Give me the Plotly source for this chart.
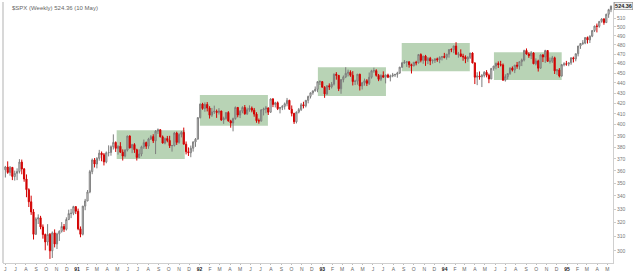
import pandas as pd
import plotly.graph_objects as go

# ---------------- data (weekly $SPX, Jun 1990 - May 1995) ----------------
first_week = "1990-06-01"

opens = [
    # 1990
    360.9, 363.2, 358.7, 362.9, 355.4, 358.0, 359.5, 367.3, 361.6, 353.4, 344.9, 335.5, 327.8, 311.5, 322.6, 323.4,
    316.8, 311.3, 306.1, 311.5, 300.0, 312.5, 304.7, 311.8, 313.7, 317.1, 315.1, 322.2, 326.6, 326.8, 331.8,
    # 1991
    328.3, 315.4, 311.5, 332.2, 336.1, 343.1, 359.4, 369.1, 365.7, 370.5, 374.9, 373.5, 367.5, 375.2, 375.4, 380.4,
    384.2, 379.0, 380.8, 375.7, 372.4, 377.5, 389.8, 379.4, 382.3, 377.8, 371.2, 374.1, 380.3, 384.0, 380.9, 387.2,
    389.3, 385.6, 394.2, 395.4, 389.1, 383.6, 387.6, 385.9, 381.3, 381.5, 392.5, 384.2, 391.3, 393.1, 382.6, 376.1,
    375.2, 379.1, 384.5, 387.0,
    # 1992
    406.5, 419.3, 415.1, 418.9, 415.5, 408.8, 411.9, 412.5, 411.4, 412.7, 404.4, 405.8, 411.3, 403.5, 401.6, 405.6,
    416.1, 409.0, 412.5, 416.1, 410.1, 414.0, 415.4, 413.5, 409.8, 403.7, 403.5, 413.8, 414.6, 415.6, 411.6, 424.2,
    418.9, 420.6, 414.9, 416.1, 417.1, 419.6, 422.9, 414.4, 410.5, 402.7, 411.7, 414.1, 418.7, 417.6, 422.9, 426.7,
    430.2, 432.1, 433.7, 441.3, 441.3,
    # 1993
    435.7, 429.1, 437.2, 436.1, 438.8, 448.9, 447.7, 434.2, 443.4, 446.1, 449.8, 450.9, 447.8, 441.4, 441.8, 448.9,
    437.0, 440.2, 442.3, 439.6, 445.8, 452.4, 452.5, 447.7, 443.7, 447.6, 445.8, 448.1, 445.8, 447.1, 448.1, 448.7,
    450.1, 456.2, 460.5, 461.3, 461.7, 458.8, 457.6, 461.3, 460.7, 469.5, 463.3, 467.8, 463.0, 465.4, 462.6, 463.1,
    464.9, 463.9, 466.4, 467.4,
    # 1994
    466.5, 469.9, 474.9, 474.7, 478.7, 469.8, 470.2, 467.7, 467.0, 464.7, 466.4, 471.1, 460.6, 445.8, 447.1, 446.2,
    447.6, 450.9, 447.8, 444.1, 454.9, 457.3, 460.1, 458.7, 458.5, 442.8, 446.4, 449.6, 455.2, 453.1, 458.3, 457.1,
    461.9, 463.7, 473.8, 470.0, 468.2, 471.2, 459.7, 462.7, 455.1, 469.1, 466.9, 473.8, 462.3, 462.4, 466.0, 452.3,
    453.3, 447.0, 458.8, 459.6,
    # 1995
    459.3, 460.7, 466.0, 464.8, 470.4, 478.7, 481.5, 482.0, 488.1, 485.4, 489.6, 496.0, 501.0, 500.7, 506.4, 509.2,
    505.0, 514.7, 520.1,
]

highs = [
    # 1990
    364.1, 367.9, 364.0, 363.1, 360.2, 362.1, 369.8, 369.4, 362.4, 357.1, 346.0, 340.2, 329.9, 323.8, 326.0, 324.9,
    318.6, 312.0, 318.8, 312.4, 313.5, 315.0, 312.6, 314.3, 320.3, 318.9, 323.8, 329.5, 330.1, 332.4, 332.2,
    # 1991
    330.3, 317.1, 332.3, 337.7, 344.6, 360.8, 370.3, 370.7, 371.4, 377.7, 376.3, 375.0, 376.3, 381.6, 381.5, 391.3,
    385.0, 381.6, 384.4, 378.1, 378.2, 390.1, 390.4, 382.9, 383.5, 378.7, 378.2, 381.3, 386.7, 384.9, 388.2, 390.6,
    391.4, 395.1, 396.6, 396.0, 390.3, 388.4, 389.9, 390.0, 381.9, 393.5, 393.7, 392.2, 394.2, 397.4, 385.0, 379.8,
    381.4, 385.2, 388.0, 407.0,
    # 1992
    419.8, 420.5, 420.9, 421.2, 417.3, 415.6, 417.8, 414.1, 415.4, 413.0, 407.4, 411.5, 412.6, 404.5, 406.5, 417.0,
    416.5, 413.6, 417.2, 418.4, 415.9, 418.1, 417.0, 415.6, 411.6, 405.7, 414.4, 415.9, 417.5, 416.1, 424.8, 425.1,
    421.5, 421.8, 416.5, 418.3, 420.8, 425.2, 423.4, 418.0, 411.0, 412.2, 415.6, 420.4, 421.5, 423.2, 427.4, 430.4,
    432.5, 436.5, 441.4, 442.6, 441.8,
    # 1993
    436.8, 437.5, 439.6, 441.0, 449.6, 451.0, 448.1, 443.9, 447.6, 456.1, 453.6, 452.9, 452.0, 443.2, 449.1, 449.3,
    441.1, 444.4, 443.9, 450.6, 453.4, 455.6, 454.0, 449.1, 448.7, 451.8, 448.6, 449.4, 448.5, 450.2, 449.1, 451.4,
    456.4, 461.6, 463.6, 462.3, 462.4, 459.8, 461.3, 462.8, 470.1, 470.8, 468.2, 469.1, 466.8, 467.0, 464.5, 465.3,
    466.2, 467.6, 467.4, 471.3,
    # 1994
    470.1, 475.3, 476.2, 479.0, 482.9, 472.3, 475.1, 470.3, 468.6, 467.8, 471.2, 471.9, 461.2, 450.9, 451.7, 449.1,
    452.0, 453.1, 449.5, 455.1, 457.3, 460.9, 462.2, 462.8, 460.0, 448.8, 449.6, 456.0, 456.9, 458.3, 461.6, 462.0,
    465.2, 474.7, 476.1, 471.9, 473.2, 472.0, 465.4, 464.0, 469.6, 469.9, 474.6, 474.1, 466.3, 468.0, 467.2, 454.2,
    455.2, 459.5, 461.3, 462.7,
    # 1995
    461.3, 466.4, 467.2, 470.4, 478.8, 481.9, 485.2, 488.3, 489.2, 490.4, 496.2, 501.4, 503.9, 506.6, 510.0, 510.1,
    515.3, 521.1, 524.9,
]

lows = [
    # 1990
    354.6, 357.6, 356.1, 352.5, 352.1, 352.5, 357.9, 357.2, 351.2, 339.0, 331.5, 325.6, 307.8, 311.0, 318.9, 315.1,
    308.4, 300.3, 303.6, 294.5, 295.1, 302.3, 301.2, 306.8, 312.7, 313.2, 314.2, 321.7, 323.2, 325.4, 326.2,
    # 1991
    314.4, 309.4, 310.7, 329.1, 336.0, 342.1, 357.3, 362.8, 362.1, 368.5, 368.0, 364.5, 366.3, 372.1, 372.7, 378.0,
    375.9, 373.6, 375.1, 368.6, 371.2, 376.3, 378.9, 374.9, 375.1, 368.6, 370.6, 372.2, 378.5, 378.5, 378.6, 386.3,
    383.6, 374.1, 391.7, 388.6, 383.2, 382.5, 384.3, 379.3, 376.2, 380.6, 382.0, 383.1, 388.6, 382.6, 373.8, 372.5,
    371.4, 376.2, 380.3, 386.8,
    # 1992
    405.8, 413.9, 412.0, 412.3, 405.7, 407.2, 410.0, 406.3, 409.4, 403.6, 400.8, 404.6, 402.8, 397.3, 394.0, 404.6,
    406.8, 406.1, 410.6, 409.2, 409.1, 412.0, 411.5, 407.4, 401.8, 401.0, 402.8, 408.6, 410.6, 409.0, 411.0, 416.4,
    416.1, 413.6, 410.5, 413.6, 414.1, 417.2, 413.8, 407.7, 400.7, 401.2, 410.5, 412.7, 415.2, 416.1, 420.0, 424.7,
    428.3, 431.5, 430.8, 438.0, 435.7,
    # 1993
    425.3, 428.2, 433.0, 434.5, 437.4, 443.3, 431.9, 429.3, 440.6, 444.9, 446.6, 446.2, 437.5, 437.9, 438.3, 432.5,
    433.5, 437.3, 436.9, 438.0, 444.4, 450.3, 446.4, 441.8, 441.9, 445.3, 439.6, 444.9, 441.6, 445.8, 446.1, 445.3,
    449.2, 455.3, 459.8, 456.4, 455.6, 449.6, 456.9, 458.0, 459.9, 461.2, 459.7, 457.5, 459.3, 458.3, 459.9, 460.5,
    461.7, 460.3, 463.2, 465.4,
    # 1994
    464.0, 466.1, 472.0, 470.9, 469.3, 466.1, 466.8, 462.9, 460.3, 461.7, 464.8, 460.1, 438.9, 437.8, 443.3, 435.9,
    445.6, 445.7, 439.8, 443.8, 452.5, 453.9, 455.3, 456.9, 442.3, 441.4, 443.5, 448.2, 451.7, 450.0, 454.5, 453.6,
    457.3, 462.2, 469.4, 465.9, 464.6, 459.3, 458.0, 451.6, 454.6, 461.5, 460.6, 461.8, 460.0, 460.6, 449.1, 448.3,
    445.6, 446.4, 457.0, 457.6,
    # 1995
    457.2, 458.6, 461.1, 462.3, 467.5, 475.6, 479.8, 480.7, 481.4, 482.0, 488.5, 494.2, 493.8, 499.1, 504.9, 502.5,
    504.5, 510.5, 517.2,
]

closes = [
    # 1990
    363.2, 358.7, 362.9, 355.4, 358.0, 359.5, 367.3, 361.6, 353.4, 344.9, 335.5, 327.8, 311.5, 322.6, 323.4, 316.8,
    311.3, 306.1, 311.5, 300.0, 312.5, 304.7, 311.8, 313.7, 317.1, 315.1, 322.2, 326.6, 326.8, 331.8, 328.3,
    # 1991
    315.4, 311.5, 332.2, 336.1, 343.1, 359.4, 369.1, 365.7, 370.5, 374.9, 373.5, 367.5, 375.2, 375.4, 380.4, 384.2,
    379.0, 380.8, 375.7, 372.4, 377.5, 389.8, 379.4, 382.3, 377.8, 371.2, 374.1, 380.3, 384.0, 380.9, 387.2, 389.3,
    385.6, 394.2, 395.4, 389.1, 383.6, 387.6, 385.9, 381.3, 381.5, 392.5, 384.2, 391.3, 393.1, 382.6, 376.1, 375.2,
    379.1, 384.5, 387.0, 406.5,
    # 1992
    419.3, 415.1, 418.9, 415.5, 408.8, 411.9, 412.5, 411.4, 412.7, 404.4, 405.8, 411.3, 403.5, 401.6, 405.6, 416.1,
    409.0, 412.5, 416.1, 410.1, 414.0, 415.4, 413.5, 409.8, 403.7, 403.5, 413.8, 414.6, 415.6, 411.6, 424.2, 418.9,
    420.6, 414.9, 416.1, 417.1, 419.6, 422.9, 414.4, 410.5, 402.7, 411.7, 414.1, 418.7, 417.6, 422.9, 426.7, 430.2,
    432.1, 433.7, 441.3, 441.3, 435.7,
    # 1993
    429.1, 437.2, 436.1, 438.8, 448.9, 447.7, 434.2, 443.4, 446.1, 449.8, 450.9, 447.8, 441.4, 441.8, 448.9, 437.0,
    440.2, 442.3, 439.6, 445.8, 452.4, 452.5, 447.7, 443.7, 447.6, 445.8, 448.1, 445.8, 447.1, 448.1, 448.7, 450.1,
    456.2, 460.5, 461.3, 461.7, 458.8, 457.6, 461.3, 460.7, 469.5, 463.3, 467.8, 463.0, 465.4, 462.6, 463.1, 464.9,
    463.9, 466.4, 467.4, 466.5,
    # 1994
    469.9, 474.9, 474.7, 478.7, 469.8, 470.2, 467.7, 467.0, 464.7, 466.4, 471.1, 460.6, 445.8, 447.1, 446.2, 447.6,
    450.9, 447.8, 444.1, 454.9, 457.3, 460.1, 458.7, 458.5, 442.8, 446.4, 449.6, 455.2, 453.1, 458.3, 457.1, 461.9,
    463.7, 473.8, 470.0, 468.2, 471.2, 459.7, 462.7, 455.1, 469.1, 466.9, 473.8, 462.3, 462.4, 466.0, 452.3, 453.3,
    447.0, 458.8, 459.6, 459.3,
    # 1995
    460.7, 466.0, 464.8, 470.4, 478.7, 481.5, 482.0, 488.1, 485.4, 489.6, 496.0, 501.0, 500.7, 506.4, 509.2, 505.0,
    514.7, 520.1, 524.36,
]

# consolidation boxes (green)
box_start = ["1991-04-29", "1992-01-02", "1992-12-19", "1993-08-26", "1994-05-28"]
box_end   = ["1991-11-18", "1992-07-23", "1993-07-10", "1994-03-17", "1994-12-16"]
box_low   = [370, 399, 427, 452, 443]
box_high  = [395, 428, 456, 482, 472]

month_labels = [
    "J", "J", "A", "S", "O", "N", "D",
    "91", "F", "M", "A", "M", "J", "J", "A", "S", "O", "N", "D",
    "92", "F", "M", "A", "M", "J", "J", "A", "S", "O", "N", "D",
    "93", "F", "M", "A", "M", "J", "J", "A", "S", "O", "N", "D",
    "94", "F", "M", "A", "M", "J", "J", "A", "S", "O", "N", "D",
    "95", "F", "M", "A", "M",
]
price_ticks = [300, 310, 320, 330, 340, 350, 360, 370, 380, 390, 400, 410, 420, 430,
               440, 450, 460, 470, 480, 490, 500, 510]

title_text = "$SPX (Weekly) 524.36 (10 May)"
last_label = "524.36"

# ---------------- figure ----------------
dates = pd.date_range(first_week, periods=len(closes), freq="W-FRI")
month_starts = pd.date_range("1990-06-01", periods=len(month_labels), freq="MS")

ticktext = []
for lab in month_labels:
    if lab.isdigit():
        ticktext.append("<b><span style='color:#222'>" + lab + "</span></b>")
    else:
        ticktext.append(lab)

fig = go.Figure()
fig.add_trace(go.Candlestick(
    x=dates, open=opens, high=highs, low=lows, close=closes,
    increasing=dict(line=dict(color="#7d7d7d", width=1), fillcolor="rgba(255,255,255,0)"),
    decreasing=dict(line=dict(color="#d40000", width=1), fillcolor="#c80000"),
    whiskerwidth=0,
    showlegend=False,
    hoverinfo="skip",
))

shapes = []
for s, e, lo, hi in zip(box_start, box_end, box_low, box_high):
    shapes.append(dict(type="rect", xref="x", yref="y", x0=s, x1=e, y0=lo, y1=hi,
                       fillcolor="#b4d1b1", line=dict(width=0), layer="below", opacity=0.95))
# left border strip
shapes.append(dict(type="line", xref="paper", yref="paper", x0=0, x1=0, y0=0, y1=1,
                   line=dict(color="#d8d8d8", width=2)))

fig.update_layout(
    width=640, height=271,
    margin=dict(l=3, r=27, t=2, b=8),
    paper_bgcolor="white", plot_bgcolor="white",
    font=dict(family="Liberation Sans, Arial, sans-serif", size=6, color="#666"),
    shapes=shapes,
    xaxis=dict(
        type="date",
        range=["1990-05-25", "1995-05-18"],
        rangeslider=dict(visible=False),
        tickmode="array", tickvals=month_starts, ticktext=ticktext,
        tickfont=dict(size=5, color="#666"),
        showgrid=False, zeroline=False,
        showline=True, linecolor="#cfcfcf", linewidth=1,
        ticks="outside", ticklen=1, tickcolor="#bbbbbb",
        automargin=False,
    ),
    yaxis=dict(
        type="log", side="right",
        range=[2.4650, 2.7237],
        tickmode="array", tickvals=price_ticks, ticktext=[str(v) for v in price_ticks],
        tickfont=dict(size=5, color="#777"),
        showgrid=False, zeroline=False,
        showline=True, linecolor="#cfcfcf", linewidth=1,
        ticks="outside", ticklen=2, tickcolor="#cccccc",
        automargin=False,
    ),
    annotations=[
        dict(text=title_text, xref="paper", yref="paper", x=0.012, y=0.995,
             xanchor="left", yanchor="top", showarrow=False,
             font=dict(size=6, color="#666")),
        dict(text="<b>" + last_label + "</b>", xref="paper", yref="y", x=1.0,
             y=2.71963, xanchor="left", yanchor="middle", showarrow=False,
             font=dict(size=5.5, color="#222"), bgcolor="#f2f2f2",
             bordercolor="#888", borderwidth=0.6, borderpad=0.5, xshift=1),
    ],
)

fig.write_html("out.html")
